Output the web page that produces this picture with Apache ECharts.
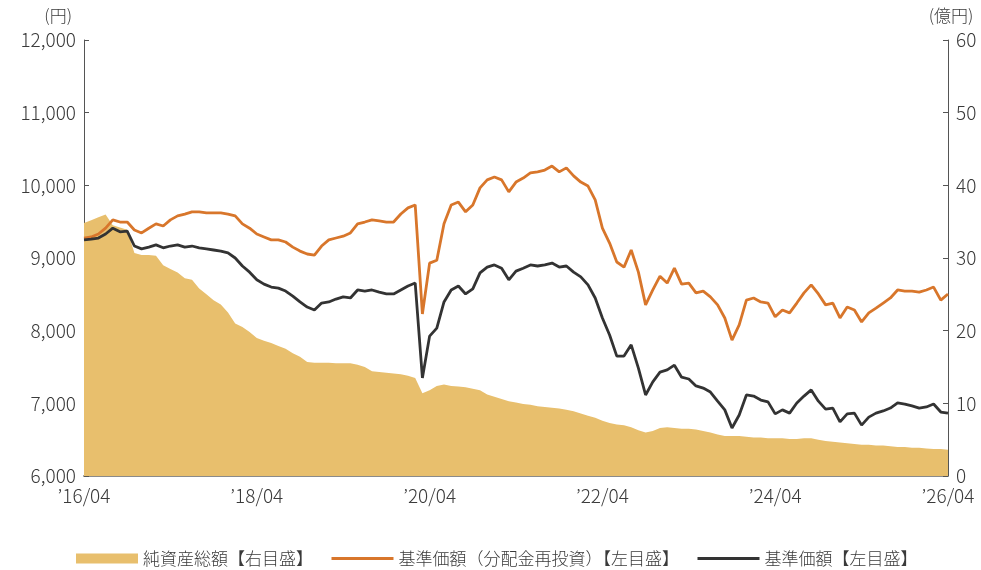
<!DOCTYPE html>
<html><head><meta charset="utf-8">
<script src="https://cdn.jsdelivr.net/npm/echarts@6/dist/echarts.min.js"></script>
<style>html,body{margin:0;padding:0;background:#fff}#c{width:981px;height:570px}</style>
</head><body><div id="c"></div>
<script>
// Monthly categories 2016-04 .. 2026-04
const months = [];
for (let y = 2016, m = 4; !(y === 2026 && m > 4);) {
  months.push(y + '-' + String(m).padStart(2, '0'));
  m++; if (m > 12) { m = 1; y++; }
}
const xTickLabels = ['’16/04', '’18/04', '’20/04', '’22/04', '’24/04', '’26/04'];
const seriesNames = ['純資産総額【右目盛】', '基準価額（分配金再投資）【左目盛】', '基準価額【左目盛】'];

// 純資産総額 (億円, right axis)
const netAssets = [34.8,35.2,35.6,36.0,34.5,34.2,33.9,30.7,30.4,30.4,
30.3,29.0,28.5,28.0,27.2,27.0,25.8,25.0,24.2,23.6,
22.5,21.0,20.5,19.8,19.0,18.6,18.3,17.9,17.5,16.9,
16.4,15.7,15.6,15.6,15.6,15.5,15.5,15.5,15.3,15.0,
14.4,14.3,14.2,14.1,14.0,13.8,13.5,11.4,11.8,12.4,
12.6,12.4,12.3,12.2,12.0,11.8,11.2,10.9,10.6,10.3,
10.1,9.9,9.8,9.6,9.5,9.4,9.3,9.1,8.9,8.6,
8.3,8.0,7.6,7.3,7.1,7.0,6.7,6.3,6.0,6.2,
6.6,6.7,6.6,6.5,6.5,6.4,6.2,6.0,5.7,5.5,
5.5,5.5,5.4,5.3,5.3,5.2,5.2,5.2,5.1,5.1,
5.2,5.2,5.0,4.8,4.7,4.6,4.5,4.4,4.3,4.3,
4.2,4.2,4.1,4.0,4.0,3.9,3.9,3.8,3.7,3.7,
3.6];

// 基準価額（分配金再投資） (円, left axis)
const navReinvested = [9275,9290,9330,9410,9525,9495,9495,9385,9345,9410,
9470,9440,9525,9580,9605,9635,9635,9620,9620,9620,
9605,9580,9470,9410,9330,9290,9250,9250,9220,9150,
9095,9055,9040,9165,9250,9275,9300,9345,9470,9495,
9525,9510,9495,9495,9605,9690,9730,8230,8930,8970,
9470,9730,9770,9635,9730,9965,10075,10115,10075,9910,
10045,10100,10170,10185,10210,10265,10185,10240,10130,10045,
9990,9800,9410,9205,8945,8875,9110,8805,8355,8560,
8750,8655,8860,8640,8655,8520,8545,8465,8355,8175,
7870,8080,8420,8450,8395,8380,8190,8285,8245,8380,
8520,8630,8505,8355,8380,8175,8325,8285,8120,8245,
8310,8380,8450,8560,8545,8545,8530,8560,8600,8420,
8505];

// 基準価額 (円, left axis)
const nav = [9250,9260,9275,9330,9410,9360,9370,9165,9125,9150,
9180,9140,9165,9180,9150,9165,9140,9125,9110,9095,
9070,9000,8890,8805,8700,8640,8600,8585,8545,8475,
8395,8325,8285,8380,8395,8435,8465,8450,8560,8545,
8560,8530,8505,8505,8560,8615,8655,7350,7925,8035,
8395,8560,8615,8505,8575,8795,8875,8905,8860,8700,
8820,8860,8905,8890,8905,8930,8875,8890,8805,8740,
8630,8450,8175,7940,7650,7650,7805,7485,7115,7295,
7430,7460,7525,7360,7335,7240,7210,7155,7030,6910,
6660,6840,7115,7100,7045,7020,6855,6910,6865,7005,
7100,7185,7030,6920,6935,6745,6855,6865,6700,6810,
6865,6895,6935,7005,6990,6965,6935,6950,6990,6880,
6865];

const FONT = '"Noto Sans CJK JP", "Noto Sans", sans-serif';
const TXT = '#3a3a3a';
const COL_AREA = '#E8BF6D', COL_ORANGE = '#D8762B', COL_BLACK = '#333333';

const chart = echarts.init(document.getElementById('c'), null, { renderer: 'canvas' });
chart.setOption({
  animation: false,
  textStyle: { fontFamily: FONT },
  grid: { left: 84, right: 33, top: 40, bottom: 94, containLabel: false },
  legend: {
    left: 71, top: 545, itemWidth: 62, itemHeight: 10, itemGap: 17,
    textStyle: { fontFamily: FONT, fontSize: 17, color: TXT, fontWeight: 300 },
    data: [
      { name: seriesNames[0], icon: 'rect' },
      { name: seriesNames[1], itemStyle: { opacity: 0 }, lineStyle: { width: 3 } },
      { name: seriesNames[2], itemStyle: { opacity: 0 }, lineStyle: { width: 3 } }
    ]
  },
  xAxis: {
    type: 'category', data: months, boundaryGap: false,
    axisLine: { lineStyle: { color: '#8a8a8a', width: 2 } },
    axisTick: { inside: true, length: 6, lineStyle: { color: '#555', width: 1 },
      interval: (i) => i % 24 === 0 },
    axisLabel: {
      interval: (i) => i % 24 === 0, margin: 10,
      fontFamily: FONT, fontSize: 19, color: TXT, fontWeight: 300,
      formatter: (v, i) => xTickLabels[Math.round(i / 24)] || ''
    },
    splitLine: { show: false }
  },
  yAxis: [
    {
      type: 'value', min: 6000, max: 12000, interval: 1000, position: 'left',
      name: '(円)', nameLocation: 'end', nameGap: 16,
      nameTextStyle: { fontFamily: FONT, fontSize: 17, color: TXT, fontWeight: 300, align: 'right', padding: [0, 12, 0, 0] },
      axisLine: { show: true, lineStyle: { color: '#555', width: 1 } },
      axisTick: { show: true, inside: true, length: 5, lineStyle: { color: '#555' } },
      axisLabel: { fontFamily: FONT, fontSize: 19, color: TXT, fontWeight: 300, margin: 8,
        formatter: (v) => v.toLocaleString('en-US') },
      splitLine: { show: false }
    },
    {
      type: 'value', min: 0, max: 60, interval: 10, position: 'right',
      name: '(億円)', nameLocation: 'end', nameGap: 16,
      nameTextStyle: { fontFamily: FONT, fontSize: 17, color: TXT, fontWeight: 300, align: 'center', padding: [0, 0, 0, 6] },
      axisLine: { show: true, lineStyle: { color: '#555', width: 1 } },
      axisTick: { show: true, inside: true, length: 5, lineStyle: { color: '#555' } },
      axisLabel: { fontFamily: FONT, fontSize: 19, color: TXT, fontWeight: 300, margin: 8 },
      splitLine: { show: false }
    }
  ],
  series: [
    {
      name: seriesNames[0], type: 'line', yAxisIndex: 1, data: netAssets,
      symbol: 'none', showSymbol: false,
      itemStyle: { color: COL_AREA },
      lineStyle: { width: 0, color: COL_AREA },
      areaStyle: { color: COL_AREA, opacity: 1 },
      z: 1
    },
    {
      name: seriesNames[1], type: 'line', yAxisIndex: 0, data: navReinvested,
      symbol: 'none', showSymbol: false,
      itemStyle: { color: COL_ORANGE },
      lineStyle: { width: 2.8, color: COL_ORANGE },
      z: 2
    },
    {
      name: seriesNames[2], type: 'line', yAxisIndex: 0, data: nav,
      symbol: 'none', showSymbol: false,
      itemStyle: { color: COL_BLACK },
      lineStyle: { width: 2.8, color: COL_BLACK },
      z: 3
    }
  ]
});
</script>
</body></html>
